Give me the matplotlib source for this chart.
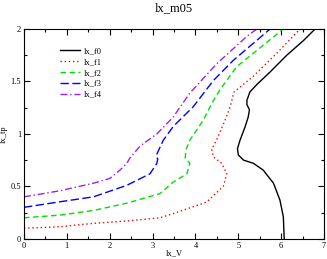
import matplotlib
matplotlib.use("Agg")
import matplotlib.pyplot as plt
from matplotlib.ticker import MultipleLocator, FuncFormatter

# data (lx_V, lx_tp)
f0_v = [6.07, 6.05, 5.97, 5.82, 5.58, 5.35, 5.12, 5.0, 4.98, 5.04, 5.16, 5.23, 5.26, 5.2, 5.2,
        5.27, 5.43, 5.74, 6.13, 6.52, 6.79]
f0_tp = [0.0, 0.21, 0.37, 0.53, 0.655, 0.72, 0.75, 0.8, 0.86, 0.94, 1.07, 1.16, 1.23, 1.28, 1.32,
         1.40, 1.47, 1.59, 1.75, 1.89, 2.0]

f1_v = [0.0, 0.84, 1.62, 2.40, 3.17, 3.48, 4.26, 4.65, 4.73, 4.69, 4.61, 4.42, 4.38, 4.5, 4.69,
        4.81, 4.9, 5.35, 5.9, 6.44]
f1_tp = [0.1, 0.115, 0.147, 0.17, 0.20, 0.24, 0.35, 0.5, 0.62, 0.655, 0.72, 0.78, 0.85, 0.95, 1.13,
         1.26, 1.40, 1.55, 1.77, 2.0]

f2_v = [0.0, 0.84, 1.62, 2.40, 3.17, 3.48, 3.8, 3.87, 3.76, 3.78, 3.87, 4.18, 4.38, 4.57, 4.96, 6.05]
f2_tp = [0.2, 0.226, 0.27, 0.34, 0.43, 0.54, 0.62, 0.72, 0.77, 0.85, 0.94, 1.13, 1.29, 1.42, 1.64, 2.0]

f3_v = [0.0, 0.84, 1.62, 2.40, 2.94, 3.1, 3.12, 3.08, 3.17, 3.25, 3.48, 3.95, 4.42, 4.88, 5.74]
f3_tp = [0.3, 0.353, 0.40, 0.51, 0.62, 0.72, 0.76, 0.79, 0.87, 0.94, 1.07, 1.26, 1.51, 1.70, 2.0]

f4_v = [0.0, 0.84, 1.62, 2.0, 2.24, 2.40, 2.47, 2.71, 3.1, 3.48, 3.87, 4.5, 5.2, 5.43]
f4_tp = [0.4, 0.458, 0.53, 0.575, 0.655, 0.72, 0.77, 0.885, 1.0, 1.16, 1.39, 1.67, 1.93, 2.0]

plt.rcParams['font.family'] = 'Liberation Serif'

fig = plt.figure(figsize=(3.27, 2.59), dpi=100)
ax = fig.add_axes([0.0734, 0.078, 0.9176, 0.81])

ax.plot(f0_v, f0_tp, color='black', lw=1.0, label='lx_f0')
ax.plot(f1_v, f1_tp, color='#ff0000', lw=1.0, ls=(0, (1, 2)), label='lx_f1')
ax.plot(f2_v, f2_tp, color='#00e000', lw=1.0, ls=(0, (4, 2.5)), label='lx_f2')
ax.plot(f3_v, f3_tp, color='#0000ff', lw=1.0, ls=(0, (6, 2.5)), label='lx_f3')
ax.plot(f4_v, f4_tp, color='#a020f0', lw=1.0, ls=(0, (5, 2, 1, 2)), label='lx_f4')

ax.set_xlim(0, 7)
ax.set_ylim(0, 2)
ax.xaxis.set_major_locator(MultipleLocator(1))
ax.xaxis.set_minor_locator(MultipleLocator(0.5))
ax.yaxis.set_major_locator(MultipleLocator(0.5))
ax.yaxis.set_minor_locator(MultipleLocator(0.25))
ax.yaxis.set_major_formatter(FuncFormatter(lambda v, p: '%g' % v))
ax.tick_params(which='both', direction='in', top=True, right=True, labelsize=6, pad=2)
ax.tick_params(which='major', length=4, width=0.8)
ax.tick_params(which='minor', length=2, width=0.8)

ax.set_title('lx_m05', fontsize=9, pad=13)
ax.set_xlabel('lx_V', fontsize=6, labelpad=0)
ax.set_ylabel('lx_tp', fontsize=6, labelpad=2)

ax.legend(loc='upper left', bbox_to_anchor=(0.11, 0.93), frameon=False, fontsize=6,
          handlelength=2.3, handletextpad=0.5, labelspacing=0.35, borderaxespad=0)

fig.savefig('out.png', dpi=100)
